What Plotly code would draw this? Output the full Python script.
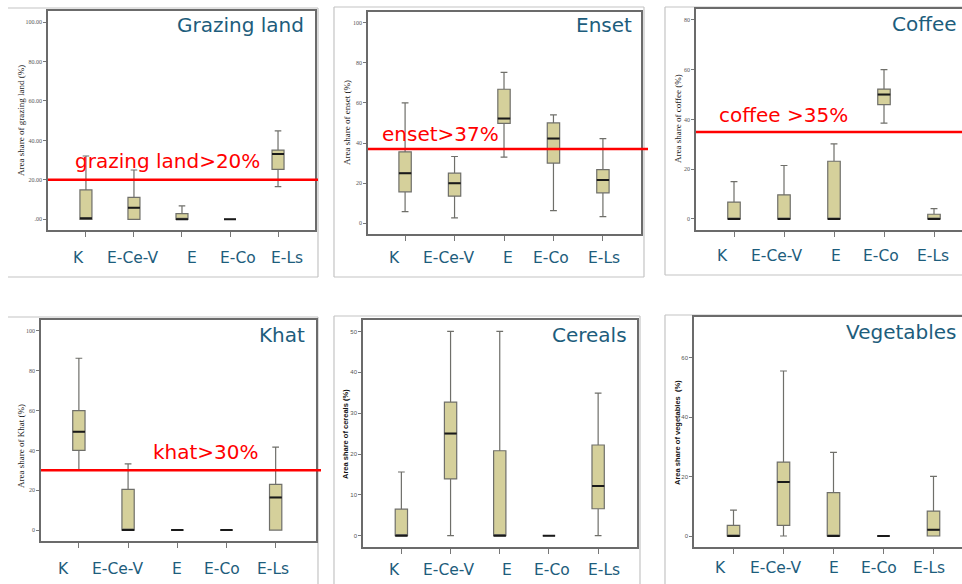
import plotly.graph_objects as go

W, H = 962, 584

CATEGORIES = ["K", "E-Ce-V", "E", "E-Co", "E-Ls"]

# Five-number summaries (lower whisker, Q1, median, Q3, upper whisker), area share in %
GRAZING_LOW = [0, 0, 0, 0, 16.6]
GRAZING_Q1 = [0, 0, 0, 0, 25.3]
GRAZING_MED = [0.5, 5.9, 0, 0, 33.1]
GRAZING_Q3 = [14.9, 11.1, 2.9, 0, 35.1]
GRAZING_HIGH = [32.1, 25, 6.8, 0, 44.8]

ENSET_LOW = [5.8, 2.7, 33, 6.3, 3.3]
ENSET_Q1 = [15.7, 13.5, 49.8, 30, 15.2]
ENSET_MED = [25, 20, 52.2, 42.2, 21.6]
ENSET_Q3 = [35.6, 25, 66.8, 50, 26.8]
ENSET_HIGH = [60, 33.3, 75.2, 54, 42.2]

COFFEE_LOW = [0, 0, 0, 38.5, 0]
COFFEE_Q1 = [0, 0, 0, 46, 0]
COFFEE_MED = [0, 0, 0, 50, 0]
COFFEE_Q3 = [6.8, 9.7, 23.2, 52.2, 1.9]
COFFEE_HIGH = [15, 21.5, 30.2, 60, 4.2]

KHAT_LOW = [30, 0, 0, 0, 0]
KHAT_Q1 = [40, 0, 0, 0, 0]
KHAT_MED = [49.4, 0, 0, 0, 16.4]
KHAT_Q3 = [60, 20.4, 0, 0, 22.9]
KHAT_HIGH = [86.3, 33.2, 0, 0, 41.7]

CEREALS_LOW = [0, 0, 0, 0, 0]
CEREALS_Q1 = [0, 13.9, 0, 0, 6.6]
CEREALS_MED = [0, 25, 0, 0, 12.2]
CEREALS_Q3 = [6.5, 32.7, 20.8, 0, 22.2]
CEREALS_HIGH = [15.6, 50, 50, 0, 34.9]

VEG_LOW = [0, 0, 0, 0, 0]
VEG_Q1 = [0, 3.6, 0, 0, 0]
VEG_MED = [0, 18.2, 0, 0, 2.1]
VEG_Q3 = [3.6, 24.9, 14.6, 0, 8.4]
VEG_HIGH = [8.7, 55.6, 28.2, 0, 20.1]

# Specialisation thresholds (%) shown as red reference lines
THRESHOLDS = [20, 37, 35, 30]
THRESHOLD_LABELS = ["grazing land>20%", "enset>37%", "coffee >35%", "khat>30%"]

PANEL_TITLES = ["Grazing land", "Enset", "Coffee", "Khat", "Cereals", "Vegetables"]
Y_TITLES = [
    "Area share of grazing land (%)",
    "Area share of enset (%)",
    "Area share of coffee (%)",
    "Area share of Khat (%)",
    "Area share of cereals (%)",
    "Area share of vegetables  (%)",
]
Y_TICKS = [
    [0, 20, 40, 60, 80, 100],
    [0, 20, 40, 60, 80, 100],
    [0, 20, 40, 60, 80],
    [0, 20, 40, 60, 80, 100],
    [0, 10, 20, 30, 40, 50],
    [0, 20, 40, 60],
]

STATS = [
    (GRAZING_LOW, GRAZING_Q1, GRAZING_MED, GRAZING_Q3, GRAZING_HIGH),
    (ENSET_LOW, ENSET_Q1, ENSET_MED, ENSET_Q3, ENSET_HIGH),
    (COFFEE_LOW, COFFEE_Q1, COFFEE_MED, COFFEE_Q3, COFFEE_HIGH),
    (KHAT_LOW, KHAT_Q1, KHAT_MED, KHAT_Q3, KHAT_HIGH),
    (CEREALS_LOW, CEREALS_Q1, CEREALS_MED, CEREALS_Q3, CEREALS_HIGH),
    (VEG_LOW, VEG_Q1, VEG_MED, VEG_Q3, VEG_HIGH),
]

# ---- layout geometry (pixels) ----
# plot box: left, right, top, bottom
BOXES = [(48, 315, 11, 230), (368, 641, 12, 234), (696, 962, 9, 230),
         (41, 316, 320, 541), (363, 637, 320, 547), (694, 962, 317, 547)]
X_RANGES = [(-0.79, 4.77), (-0.75, 4.77), (-0.76, 4.56),
            (-0.77, 4.82), (-0.78, 4.79), (-0.79, 4.57)]
Y_RANGES = [(-5.42, 105.6), (-5.33, 105.3), (-4.43, 84.4),
            (-5.5, 105.5), (-2.76, 52.8), (-3.7, 73.8)]
TITLE_POS = [("right", 306, 25), ("right", 634, 25), ("right", 959, 24),
             ("right", 307, 335), ("right", 629, 335), ("right", 959, 332)]
YTITLE_POS = [(21, 121), (347, 123), (678, 119), (21, 446), (345, 434), (677, 433)]
CAT_LABEL_Y = [258, 258, 256, 569, 570, 568]
CAT_SHIFTS = [
    [-7, -1.5, 10, 8, 9],
    [-11, -6, 4, -2, 1],
    [-11.5, -8, 2, -3, -1],
    [-15, -11, 0, -4.5, -3],
    [-7, -2, 7.5, 3.5, 6],
    [-13, -8.5, 0, -5, -4.5],
]
RED_LINE_X = [(48, 318), (368, 648), (696, 975), (41, 321)]
RED_LABEL_POS = [(167.5, 161), (440, 134), (783, 115), (206, 452)]

# outer panel frames as line segments (x0, y0, x1, y1)
FRAMES = [
    (8, 8, 318, 8), (318, 8, 318, 277), (8, 277, 318, 277),
    (334, 7, 644, 7), (644, 7, 644, 277), (334, 277, 644, 277), (334, 7, 334, 277),
    (665, 7, 970, 7), (665, 7, 665, 275), (665, 275, 970, 275),
    (8, 317, 318, 317), (318, 317, 318, 590),
    (334, 316, 640, 316), (334, 316, 334, 590), (640, 316, 640, 590),
    (665, 315, 970, 315), (665, 315, 665, 590),
]

TEAL = "#1d5d7c"
BOX_FILL = "#d5d09b"
BOX_LINE = "#6f6f6a"
AXIS_LINE = "#6b6b6b"


def px(x):
    return x / W


def py(y):
    return 1 - y / H


fig = go.Figure()
layout = dict(
    width=W, height=H, margin=dict(l=0, r=0, t=0, b=0),
    paper_bgcolor="white", plot_bgcolor="white", showlegend=False,
    boxmode="overlay",
)
annotations = []
shapes = []

for i in range(6):
    n = i + 1
    xa = "x" if n == 1 else f"x{n}"
    ya = "y" if n == 1 else f"y{n}"
    low, q1, med, q3, high = STATS[i]

    # box with whiskers
    fig.add_trace(go.Box(
        x=CATEGORIES, q1=q1, median=med, q3=q3, lowerfence=low, upperfence=high,
        xaxis=xa, yaxis=ya, width=0.25, whiskerwidth=0.55,
        fillcolor=BOX_FILL, line=dict(color=BOX_LINE, width=1.2),
        boxpoints=False, hoverinfo="skip",
    ))
    # darker median bar drawn on top
    fig.add_trace(go.Box(
        x=CATEGORIES, q1=med, median=med, q3=med, lowerfence=med, upperfence=med,
        xaxis=xa, yaxis=ya, width=0.25, whiskerwidth=0.0,
        fillcolor="rgba(0,0,0,0)", line=dict(color="#1a1a1a", width=2),
        boxpoints=False, hoverinfo="skip",
    ))

    left, right, top, bottom = BOXES[i]
    sans_panel = i >= 4
    tick_font = dict(family="Liberation Sans" if sans_panel else "Liberation Serif",
                     size=6, color="#555555")
    ticks = Y_TICKS[i]
    if i == 0:
        ticktext = [f"{v:.2f}".lstrip("0") if v == 0 else f"{v:.2f}" for v in ticks]
    else:
        ticktext = [str(v) for v in ticks]

    layout["xaxis" if n == 1 else f"xaxis{n}"] = dict(
        domain=[px(left), px(right)], anchor=ya, range=list(X_RANGES[i]),
        type="category", categoryorder="array", categoryarray=CATEGORIES,
        showticklabels=False, ticks="outside", ticklen=5, tickwidth=1, tickcolor="#777777",
        showline=True, linecolor=AXIS_LINE, linewidth=1.5, mirror=True,
        showgrid=False, zeroline=False, fixedrange=True,
    )
    layout["yaxis" if n == 1 else f"yaxis{n}"] = dict(
        domain=[py(bottom), py(top)], anchor=xa, range=list(Y_RANGES[i]),
        tickmode="array", tickvals=ticks, ticktext=ticktext, tickfont=tick_font,
        ticks="outside", ticklen=3, tickwidth=1, tickcolor="#777777",
        showline=True, linecolor=AXIS_LINE, linewidth=1.5, mirror=(i not in (2, 5)),
        showgrid=False, zeroline=False, fixedrange=True,
    )

    # panel title
    anchor, tx, ty = TITLE_POS[i]
    annotations.append(dict(
        text=PANEL_TITLES[i], xref="paper", yref="paper", x=px(tx), y=py(ty),
        xanchor=anchor, yanchor="middle", showarrow=False,
        font=dict(family="DejaVu Sans", size=20, color=TEAL),
    ))

    # y-axis title
    yx, yy = YTITLE_POS[i]
    if sans_panel:
        yfont = dict(family="Liberation Sans", size=7.5, color="#111111", weight="bold")
    else:
        yfont = dict(family="Liberation Serif", size=9, color="#222222")
    annotations.append(dict(
        text=Y_TITLES[i], xref="paper", yref="paper", x=px(yx), y=py(yy),
        xanchor="center", yanchor="middle", textangle=-90, showarrow=False, font=yfont,
    ))

    # category labels under each box
    for c, cat in enumerate(CATEGORIES):
        annotations.append(dict(
            text=cat, xref=xa, yref="paper", x=cat, y=py(CAT_LABEL_Y[i]),
            xanchor="center", yanchor="middle", xshift=CAT_SHIFTS[i][c], showarrow=False,
            font=dict(family="DejaVu Sans", size=15.5, color=TEAL),
        ))

# threshold lines and their labels
for i, thr in enumerate(THRESHOLDS):
    n = i + 1
    ya = "y" if n == 1 else f"y{n}"
    x0, x1 = RED_LINE_X[i]
    shapes.append(dict(
        type="line", xref="paper", yref=ya, x0=px(x0), x1=px(x1), y0=thr, y1=thr,
        line=dict(color="#ff0000", width=2.5), layer="above",
    ))
    lx, ly = RED_LABEL_POS[i]
    annotations.append(dict(
        text=THRESHOLD_LABELS[i], xref="paper", yref="paper", x=px(lx), y=py(ly),
        xanchor="center", yanchor="middle", showarrow=False,
        font=dict(family="DejaVu Sans", size=20, color="#ff0000"),
    ))

for (x0, y0, x1, y1) in FRAMES:
    shapes.append(dict(
        type="line", xref="paper", yref="paper", x0=px(x0), y0=py(y0), x1=px(x1), y1=py(y1),
        line=dict(color="#c4c4c4", width=1.2), layer="below",
    ))

layout["annotations"] = annotations
layout["shapes"] = shapes
fig.update_layout(**layout)

fig.write_html("out.html")
